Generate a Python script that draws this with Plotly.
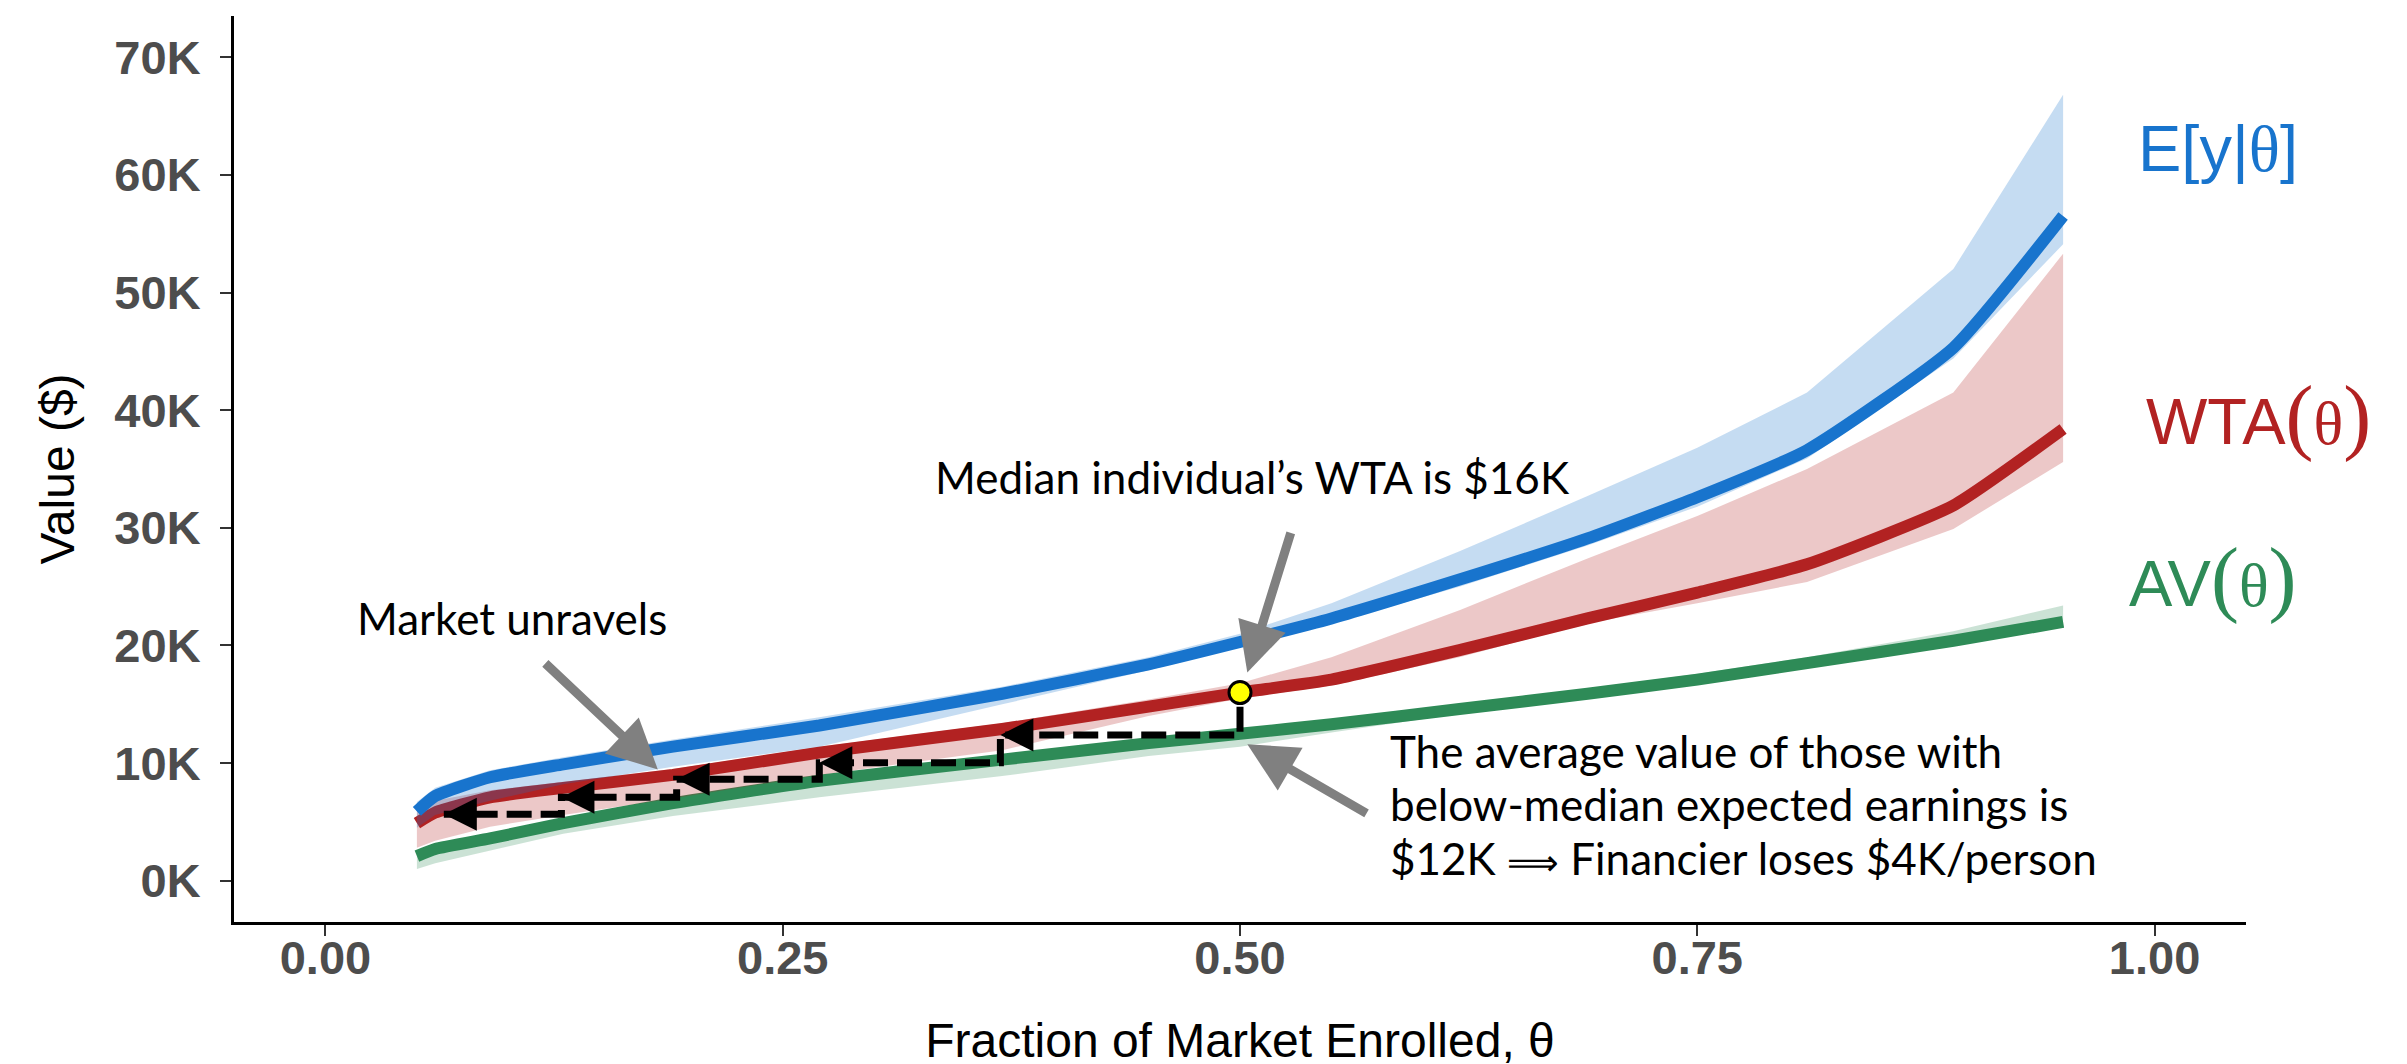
import plotly.graph_objects as go

# ---------------- data ----------------
theta = [0.05, 0.06, 0.09, 0.13, 0.19, 0.27, 0.37, 0.45, 0.50, 0.55, 0.62, 0.69, 0.75, 0.81, 0.89, 0.95]

ey_mid = [5900, 7200, 8800, 9900, 11400, 13200, 15900, 18400, 20300, 22300, 25600, 29100, 32600, 36600, 45300, 56500]
ey_hi = [6700, 7900, 9400, 10500, 12000, 13900, 16500, 19000, 21000, 23600, 28000, 32700, 36800, 41500, 52000, 66800]
ey_lo = [4500, 5600, 6800, 8200, 9700, 11400, 15000, 17900, 19900, 21900, 25000, 28500, 31800, 35900, 44400, 54100]

wta_mid = [4900, 5800, 7100, 7900, 9000, 10900, 12900, 14800, 16000, 17100, 19600, 22300, 24500, 26900, 31900, 38400]
wta_hi = [6300, 6800, 7700, 8400, 9500, 11400, 13400, 15400, 16800, 19000, 23000, 27400, 31000, 35000, 41500, 53300]
wta_lo = [2800, 3400, 4600, 5600, 7000, 9000, 11100, 14000, 15500, 16600, 19000, 21900, 23600, 25400, 29900, 35600]

av_mid = [2100, 2700, 3600, 4900, 6600, 8500, 10300, 11700, 12500, 13300, 14600, 15900, 17100, 18500, 20400, 22000]
av_hi = [2500, 3000, 3900, 5200, 6900, 8800, 10600, 12000, 12800, 13600, 14900, 16300, 17600, 19000, 21200, 23400]
av_lo = [1000, 1500, 2600, 4000, 5500, 7100, 8900, 10600, 11400, 12600, 14200, 15600, 16800, 18200, 20100, 21700]

# unravelling steps (theta where price is set, AV level reached)
step_theta = [0.50, 0.369, 0.27, 0.192, 0.129, 0.0647]
step_level = [12400, 10040, 8630, 7100, 5650]
median_theta = [0.50]
median_wta = [16000]

x_ticks = [0, 0.25, 0.5, 0.75, 1.0]
x_ticktext = ["0.00", "0.25", "0.50", "0.75", "1.00"]
y_ticks = [0, 10000, 20000, 30000, 40000, 50000, 60000, 70000]
y_ticktext = ["0K", "10K", "20K", "30K", "40K", "50K", "60K", "70K"]

BLUE = "#1874CD"
RED = "#B22222"
GREEN = "#2E8B57"
BLUE_F = "rgba(24,116,205,0.25)"
RED_F = "rgba(178,34,34,0.25)"
GREEN_F = "rgba(46,139,87,0.25)"

fig = go.Figure()


def ribbon(lo, hi, color):
    fig.add_trace(go.Scatter(x=theta + theta[::-1], y=hi + lo[::-1], fill="toself",
                             fillcolor=color, line=dict(width=0), mode="lines",
                             hoverinfo="skip", showlegend=False))


def line(y, color):
    fig.add_trace(go.Scatter(x=theta, y=y, mode="lines",
                             line=dict(color=color, width=12, shape="spline", smoothing=0.5),
                             showlegend=False))


ribbon(av_lo, av_hi, GREEN_F)
line(av_mid, GREEN)
ribbon(wta_lo, wta_hi, RED_F)
line(wta_mid, RED)
ribbon(ey_lo, ey_hi, BLUE_F)
line(ey_mid, BLUE)

# staircase path
sx = [median_theta[0]]
sy = [median_wta[0] - 1200]
for i, lev in enumerate(step_level):
    sx += [step_theta[i], step_theta[i + 1]]
    sy += [lev, lev]
fig.add_trace(go.Scatter(x=sx, y=sy, mode="lines",
                         line=dict(color="black", width=7, dash="25px,9px"),
                         showlegend=False))

fig.add_trace(go.Scatter(x=median_theta, y=median_wta, mode="markers",
                         marker=dict(size=22, color="#FFFF00", line=dict(color="black", width=3)),
                         showlegend=False))

annotations = []
# black arrowheads at the end of each step
for i, lev in enumerate(step_level):
    annotations.append(dict(x=step_theta[i + 1], y=lev, xref="x", yref="y", ax=18, ay=0,
                            showarrow=True, arrowhead=2, arrowsize=1.1, arrowwidth=6,
                            arrowcolor="black", text=""))

GRAY = "#808080"
for tip, tail in [((0.1817, 9470), (0.1194, 18600)),
                  ((0.504, 17700), (0.528, 29700)),
                  ((0.504, 11600), (0.570, 5650))]:
    annotations.append(dict(x=tip[0], y=tip[1], ax=tail[0], ay=tail[1], xref="x", yref="y",
                            axref="x", ayref="y", showarrow=True, arrowhead=2, arrowsize=1.1,
                            arrowwidth=9, arrowcolor=GRAY, text=""))

ANN_FONT = dict(family="Lato", size=44, color="black")
annotations.append(dict(x=0.1019, y=22300, xref="x", yref="y", text="Market unravels",
                        showarrow=False, font=ANN_FONT, xanchor="center", yanchor="middle"))
annotations.append(dict(x=0.5068, y=34300, xref="x", yref="y",
                        text="Median individual’s WTA is $16K",
                        showarrow=False, font=ANN_FONT, xanchor="center", yanchor="middle"))
block_lines = ["The average value of those with",
               "below-median expected earnings is",
               "$12K <span style='font-size:36px'>⟹</span> Financier loses $4K/person"]
for txt, yy in zip(block_lines, [11000, 6520, 1940]):
    annotations.append(dict(x=0.581, y=yy, xref="x", yref="y", text=txt,
                            showarrow=False, font=ANN_FONT, xanchor="left", yanchor="middle"))

LAB = dict(family="Liberation Sans", size=65)
SER = "<span style='font-family:Liberation Serif'>"
PAR_O = "<span style='font-family:Liberation Serif;font-size:84px'>(</span>"
PAR_C = "<span style='font-family:Liberation Serif;font-size:84px'>)</span>"
TH = "<span style='font-family:Liberation Serif;font-size:62px'>θ</span>"
annotations.append(dict(x=0.990, y=62200, xref="x", yref="y",
                        text="E[y|" + SER + "θ</span>]", showarrow=False,
                        font=dict(**LAB, color=BLUE), xanchor="left", yanchor="middle"))
annotations.append(dict(x=0.994, y=39500, xref="x", yref="y",
                        text="WTA" + PAR_O + TH + PAR_C, showarrow=False,
                        font=dict(**LAB, color=RED), xanchor="left", yanchor="middle"))
annotations.append(dict(x=0.985, y=25700, xref="x", yref="y",
                        text="AV" + PAR_O + TH + PAR_C, showarrow=False,
                        font=dict(**LAB, color=GREEN), xanchor="left", yanchor="middle"))

TICKFONT = dict(family="Liberation Sans", size=47, color="#4D4D4D", weight="bold")
TITLEFONT = dict(family="Liberation Sans", size=48, color="black")

fig.update_layout(
    width=2407, height=1064,
    margin=dict(l=226, r=169, t=8, b=150),
    paper_bgcolor="white", plot_bgcolor="white",
    annotations=annotations,
    showlegend=False,
    xaxis=dict(range=[-0.05, 1.05], tickvals=x_ticks, ticktext=x_ticktext,
               ticks="outside", ticklen=11, tickwidth=2, tickcolor="#333333",
               showline=True, linewidth=3, linecolor="black", showgrid=False, zeroline=False,
               tickfont=TICKFONT, ticklabelstandoff=-18,
               title=dict(text="Fraction of Market Enrolled, θ", font=TITLEFONT, standoff=40)),
    yaxis=dict(range=[-3500, 73500], tickvals=y_ticks, ticktext=y_ticktext,
               ticks="outside", ticklen=11, tickwidth=2, tickcolor="#333333",
               showline=True, linewidth=3, linecolor="black", showgrid=False, zeroline=False,
               tickfont=TICKFONT, ticklabelstandoff=10,
               title=dict(text="Value ($)", font=TITLEFONT, standoff=25)),
)

fig.write_html("out.html")
